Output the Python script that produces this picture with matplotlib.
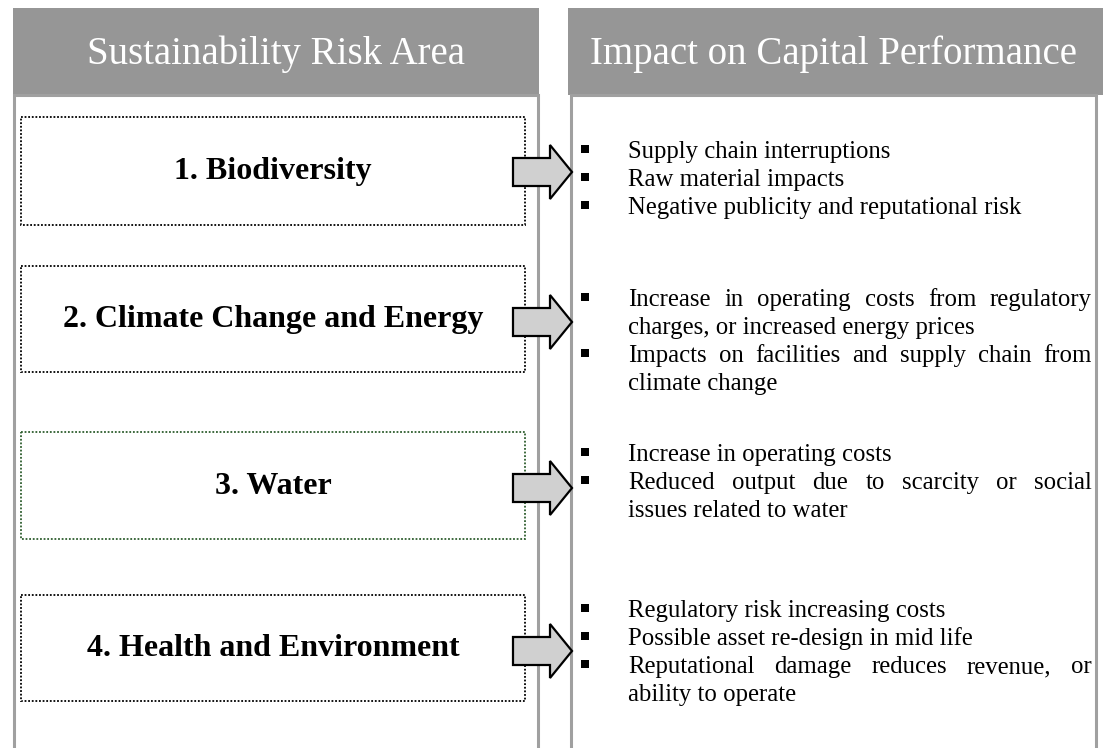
import matplotlib
matplotlib.use("Agg")
import matplotlib.pyplot as plt
from matplotlib.patches import Rectangle, Polygon

plt.rcParams['font.family'] = ['Liberation Serif', 'DejaVu Serif']

# content
headers = ['Sustainability Risk Area', 'Impact on Capital Performance']
risk_areas = ['1. Biodiversity', '2. Climate Change and Energy', '3. Water',
              '4. Health and Environment']
# each impact is a list of lines (line breaks as in the original)
impacts = [
    [['Supply chain interruptions'],
     ['Raw material impacts'],
     ['Negative publicity and reputational risk']],
    [['Increase in operating costs from regulatory', 'charges, or increased energy prices'],
     ['Impacts on facilities and supply  chain from', 'climate change']],
    [['Increase in operating costs'],
     ['Reduced output due to scarcity or social', 'issues related to water']],
    [['Regulatory risk increasing costs'],
     ['Possible asset re-design in mid life'],
     ['Reputational damage reduces revenue, or', 'ability to operate']],
]

# layout (pixels, y downwards)
W, H = 1103, 748
box_top = [117, 266, 432, 595]
box_bot = [225, 372, 539, 701]
box_col = ['black', 'black', '#2e5e2e', 'black']
arrow_y = [172, 322, 488, 651]
first_line_y = [152, 300, 455, 611]
line_h = 28
txt_left, txt_right = 628, 1092

fig = plt.figure(figsize=(W / 100, H / 100), dpi=100)
ax = fig.add_axes([0, 0, 1, 1])
ax.set_xlim(0, W)
ax.set_ylim(H, 0)
ax.axis('off')

# column headers and panels
for x0, x1, xc, title in [(13, 539, 276, headers[0]), (568, W, 834, headers[1])]:
    ax.add_patch(Rectangle((x0, 8), x1 - x0, 87, fc='#969696', ec='none'))
    ax.text(xc, 64, title, color='white', fontsize=28, ha='center', va='baseline')
for x0, x1 in [(13.5, 538), (571, 1096)]:
    ax.add_patch(Rectangle((x0, 95), x1 - x0, 700, fc='white', ec='#a0a0a0', lw=2.2))

renderer = fig.canvas.get_renderer()

for i, name in enumerate(risk_areas):
    t, b = box_top[i], box_bot[i]
    ax.add_patch(Rectangle((21, t), 504, b - t, fill=False, ec=box_col[i],
                           lw=1.3, ls=(0, (1, 1))))
    ax.text(273, (t + b) / 2 + 8, name, fontsize=23, fontweight='bold',
            ha='center', va='baseline')

    # block arrow
    y = arrow_y[i]
    pts = [(513, y - 14), (550, y - 14), (550, y - 27), (572, y),
           (550, y + 27), (550, y + 14), (513, y + 14)]
    ax.add_patch(Polygon(pts, closed=True, fc='#d0d0d0', ec='black', lw=1.6, zorder=5))

    # bullets and (justified) impact text
    ly = first_line_y[i]
    for item in impacts[i]:
        ax.add_patch(Rectangle((581, ly - 7), 8, 8, fc='black', ec='none'))
        for k, line in enumerate(item):
            base = ly + 6
            if k == len(item) - 1:
                ax.text(txt_left, base, line, fontsize=17.8, ha='left', va='baseline')
            else:
                words = line.split()
                arts = [ax.text(0, base, w, fontsize=17.8, ha='left', va='baseline')
                        for w in words]
                widths = [a.get_window_extent(renderer).width for a in arts]
                gap = (txt_right - txt_left - sum(widths)) / (len(words) - 1)
                x = txt_left
                for a, w in zip(arts, widths):
                    a.set_x(x)
                    x += w + gap
            ly += line_h

fig.savefig('out.png', dpi=100)
